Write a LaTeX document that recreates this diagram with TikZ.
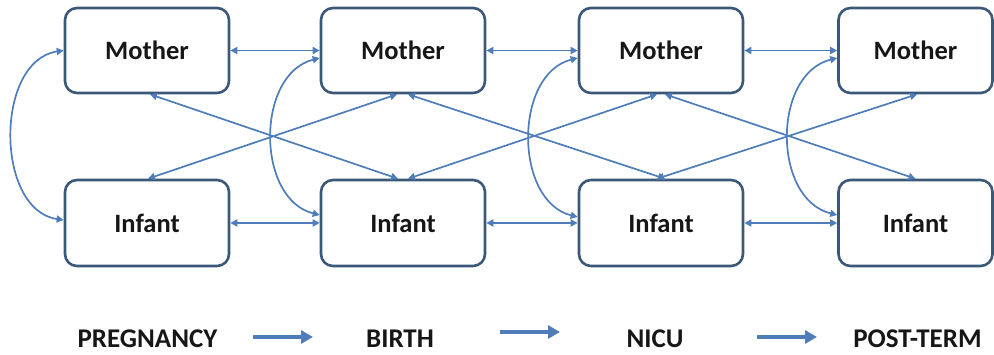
\documentclass[tikz,border=0pt]{standalone}
\usepackage{fontspec}
\setmainfont{Carlito}
\usetikzlibrary{arrows.meta}
\definecolor{linkblue}{HTML}{4F7DBA}
\definecolor{boxedge}{HTML}{3B5878}
\definecolor{labelink}{HTML}{161616}
\begin{document}
\begin{tikzpicture}[x=1pt,y=-1pt,
  stagebox/.style={draw=boxedge, line width=2.6pt, rounded corners=12pt,
    minimum width=164pt, minimum height=85pt, inner sep=0pt, fill=white,
    font=\fontsize{26.5}{30}\selectfont\bfseries, text=labelink},
  link/.style={draw=linkblue, line width=1.7pt,
    {Triangle[length=7pt,width=7pt]}-{Triangle[length=7pt,width=7pt]}},
  phase/.style={font=\fontsize{27}{30}\selectfont\bfseries, text=labelink,
    inner sep=0pt, anchor=base},
  flow/.style={draw=linkblue, line width=4pt, -{Triangle[length=12pt,width=13pt]}}]

\useasboundingbox (0,0) rectangle (994,354);
\clip (0,0) rectangle (994,354);

% mother row
\node[stagebox] (m1) at (147,50.5) {Mother};
\node[stagebox] (m2) at (403,50.5) {Mother};
\node[stagebox] (m3) at (661,50.5) {Mother};
\node[stagebox, minimum width=154pt] (m4) at (915.5,50.5) {Mother};
% infant row
\node[stagebox, minimum height=86pt] (i1) at (147,223) {Infant};
\node[stagebox, minimum height=86pt] (i2) at (403,223) {Infant};
\node[stagebox, minimum height=86pt] (i3) at (661,223) {Infant};
\node[stagebox, minimum height=86pt, minimum width=154pt] (i4) at (915.5,223) {Infant};

% links between consecutive stages
\draw[link] (m1.east) -- (m2.west);
\draw[link] (m2.east) -- (m3.west);
\draw[link] (m3.east) -- (m4.west);
\draw[link] (i1.east) -- (i2.west);
\draw[link] (i2.east) -- (i3.west);
\draw[link] (i3.east) -- (i4.west);

% cross links
\draw[link] ([xshift=3pt]m1.south) -- ([xshift=-5pt]i2.north);
\draw[link] ([xshift=1pt]i1.north) -- ([xshift=-6pt]m2.south);
\draw[link] ([xshift=5pt]m2.south) -- ([xshift=4pt]i3.north);
\draw[link] ([xshift=5pt]i2.north) -- ([xshift=-4pt]m3.south);
\draw[link] ([xshift=4pt]m3.south) -- ([xshift=0pt]i4.north);
\draw[link] ([xshift=-4pt]i3.north) -- ([xshift=1.5pt]m4.south);

% mother-infant links
\draw[link] (m1.west) .. controls +(-69,10) and +(-69,-10) .. ([yshift=3pt]i1.west);
\draw[link] ([yshift=-7.5pt]m2.west) .. controls +(-64,16) and +(-64,-16) .. ([yshift=8pt]i2.west);
\draw[link] ([yshift=-7.5pt]m3.west) .. controls +(-64,16) and +(-64,-16) .. ([yshift=6pt]i3.west);
\draw[link] ([yshift=-7.5pt]m4.west) .. controls +(-65,16) and +(-65,-16) .. ([yshift=8pt]i4.west);

% phases
\node[phase] (p1) at (147.5,347) {PREGNANCY};
\node[phase] (p2) at (400,347) {BIRTH};
\node[phase] (p3) at (655,347) {NICU};
\node[phase] (p4) at (917.5,347) {POST-TERM};

\coordinate (f1a) at (253,337);
\coordinate (f1b) at (313,337);
\coordinate (f2a) at (500,332);
\coordinate (f2b) at (560,332);
\coordinate (f3a) at (757,337);
\coordinate (f3b) at (817,337);
\draw[flow] (f1a) -- (f1b);
\draw[flow] (f2a) -- (f2b);
\draw[flow] (f3a) -- (f3b);
\end{tikzpicture}
\end{document}
